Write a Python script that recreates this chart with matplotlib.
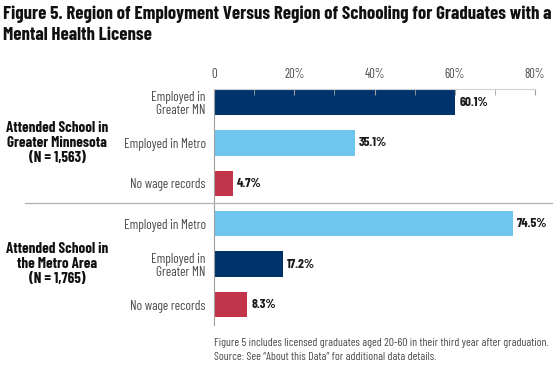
"""Region of employment vs region of schooling, mental health license graduates."""
import matplotlib
matplotlib.use("Agg")
import matplotlib.pyplot as plt
from matplotlib import font_manager

# condensed face to stand in for Myriad Condensed
names = {f.name for f in font_manager.fontManager.ttflist}
FONT = next((n for n in ["Barlow Condensed", "Fira Sans Extra Condensed", "Roboto Condensed",
                         "PT Sans Narrow", "Liberation Sans Narrow"] if n in names),
            "DejaVu Sans")
plt.rcParams["font.family"] = [FONT, "DejaVu Sans"]

# data, top to bottom
categories = ["Employed in\nGreater MN", "Employed in Metro", "No wage records",
              "Employed in Metro", "Employed in\nGreater MN", "No wage records"]
values = [60.1, 35.1, 4.7, 74.5, 17.2, 8.3]
kinds = ["greater", "metro", "none", "metro", "greater", "none"]
groups = ["Attended School in\nGreater Minnesota\n(N = 1,563)",
          "Attended School in\nthe Metro Area\n(N = 1,765)"]
tick_vals = [0, 20, 40, 60, 80]
tick_labels = ["0", "20%", "40%", "60%", "80%"]

colors = {"greater": "#00336c", "metro": "#6ec6ef", "none": "#c23449"}
GRAY = "#a0a0a0"
TXT = "#4a4a4a"

fig = plt.figure(figsize=(5.53, 3.70), dpi=100)
renderer = fig.canvas.get_renderer()


def fit_size(s, width_px, weight="normal"):
    # font size (pt) that makes the widest line of s about width_px wide
    t = fig.text(0, 0, s, fontsize=10, fontweight=weight)
    w = t.get_window_extent(renderer).width
    t.remove()
    return 10 * width_px / w


ax = fig.add_axes([0.387, 0.1216, 0.5805, 0.638])

y = list(range(len(values)))
lab_size = fit_size("Employed in Metro", 83)
val_size = fit_size("74.5%", 31, "bold")
ax.barh(y, values, height=0.63, color=[colors[k] for k in kinds])
for yi, v in zip(y, values):
    ax.text(v + 1.0, yi, f"{v}%", va="center", ha="left", fontsize=val_size,
            fontweight="bold", color="#1a1a1a")

ax.set_xlim(0, 80)
ax.set_ylim(5.507, -0.334)
ax.set_yticks(y)
ax.set_yticklabels(categories, fontsize=lab_size, color=TXT, linespacing=1.0)
ax.tick_params(axis="y", length=0, pad=6)

ax.xaxis.tick_top()
ax.set_xticks(tick_vals)
ax.set_xticklabels(tick_labels, fontsize=fit_size("80%", 21), color=TXT)
ax.set_xticks(range(0, 81, 10), minor=True)
ax.tick_params(axis="x", which="both", direction="in", length=4, color=GRAY, pad=6)

for side in ["right", "bottom"]:
    ax.spines[side].set_visible(False)
ax.spines["top"].set_color("#d0d0d0")
ax.spines["left"].set_color(GRAY)

# group labels and separator
grp_size = fit_size("Attended School in", 101, "bold")
for gy, g in zip([1, 4], groups):
    fig.text(57 / 553, ax.transData.transform((0, gy))[1] / fig.bbox.height, g,
             ha="center", va="center", fontsize=grp_size, fontweight="bold",
             color="#111111", linespacing=1.1)
sep_y = 1 - 203 / 370
fig.add_artist(plt.Line2D([25 / 553, 1.0], [sep_y, sep_y], color="#b0b0b0", lw=0.9))

title = ("Figure 5. Region of Employment Versus Region of Schooling for Graduates with a\n"
         "Mental Health License")
fig.text(0.006, 0.985, title, ha="left", va="top",
         fontsize=fit_size(title.split("\n")[0], 545, "bold"),
         fontweight="bold", color="#111111", linespacing=1.3)

note = ("Figure 5 includes licensed graduates aged 20-60 in their third year after graduation.\n"
        "Source: See \u201cAbout this Data\u201d for additional data details.")
fig.text(214 / 553, 1 - 350 / 370, note, ha="left", va="center",
         fontsize=fit_size(note.split("\n")[0], 334), color=TXT, linespacing=1.5)

fig.savefig("out.png", dpi=100)
